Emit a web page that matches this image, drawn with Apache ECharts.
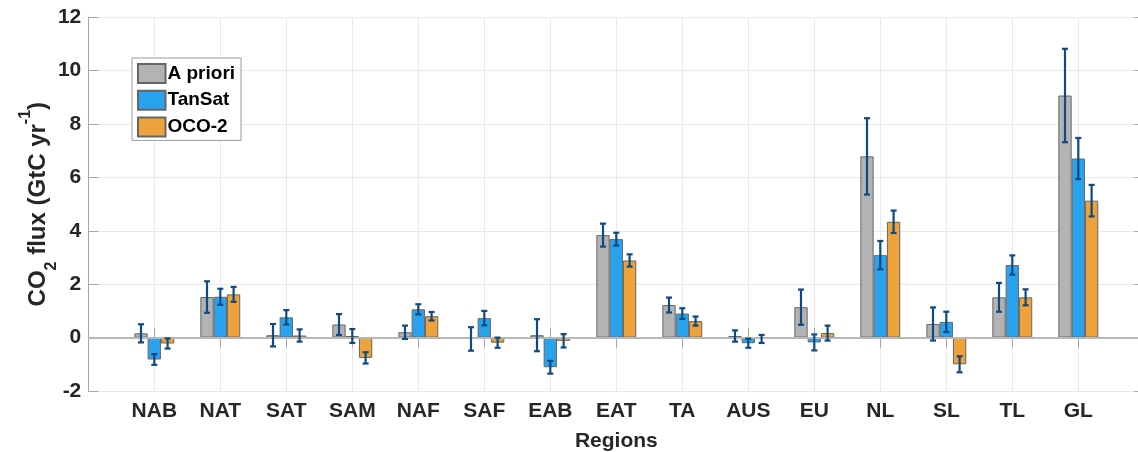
<!DOCTYPE html>
<html>
<head>
<meta charset="utf-8">
<script src="https://cdn.jsdelivr.net/npm/echarts@6/dist/echarts.min.js"></script>
<style>
  html, body { margin: 0; padding: 0; background: #fff; }
  #chart { width: 1138px; height: 452px; }
</style>
</head>
<body>
<div id="chart"></div>
<script>
// regions on the x axis
const regions = ['NAB', 'NAT', 'SAT', 'SAM', 'NAF', 'SAF', 'EAB', 'EAT', 'TA', 'AUS', 'EU', 'NL', 'SL', 'TL', 'GL'];

// flux values (GtC/yr)
const aPriori = [0.16, 1.52, 0.09, 0.49, 0.2, -0.05, 0.09, 3.84, 1.22, 0.06, 1.14, 6.79, 0.51, 1.51, 9.07];
const tanSat  = [-0.82, 1.53, 0.76, 0.06, 1.06, 0.73, -1.11, 3.69, 0.9, -0.21, -0.18, 3.09, 0.59, 2.72, 6.71];
const oco2    = [-0.22, 1.62, 0.08, -0.76, 0.8, -0.19, -0.12, 2.89, 0.62, -0.05, 0.17, 4.34, -1.0, 1.51, 5.13];

// uncertainties (+/-)
const aPrioriErr = [0.34, 0.59, 0.42, 0.39, 0.25, 0.44, 0.6, 0.43, 0.28, 0.21, 0.66, 1.43, 0.62, 0.54, 1.75];
const tanSatErr  = [0.2, 0.3, 0.27, 0.26, 0.19, 0.27, 0.24, 0.24, 0.2, 0.17, 0.3, 0.53, 0.38, 0.36, 0.77];
const oco2Err    = [0.19, 0.28, 0.23, 0.21, 0.16, 0.19, 0.25, 0.23, 0.17, 0.15, 0.28, 0.42, 0.3, 0.3, 0.59];

const yTicks = { min: -2, max: 12, step: 2 };

const FONT = 'Liberation Sans, Arial, Helvetica, sans-serif';
const TEXT = '#262626';
const FRAME = '#a6a6a6';
const GRID = '#e9e9e9';
const BAR_W = 13.3;
const ERR_COLOR = '#0f4a80';

// empty slot at each end, like xlim [0 16]
const axisCats = [''].concat(regions, ['']);
const pad = arr => [null].concat(arr, [null]);

const seriesDefs = [
  { name: 'A priori', color: '#b3b3b3', values: aPriori, errs: aPrioriErr },
  { name: 'TanSat', color: '#2aa3ef', values: tanSat, errs: tanSatErr },
  { name: 'OCO-2', color: '#eea23c', values: oco2, errs: oco2Err }
];

const barSeries = seriesDefs.map((s, k) => {
  const bar = {
    name: s.name,
    type: 'bar',
    data: pad(s.values),
    barWidth: BAR_W,
    barGap: '0%',
    itemStyle: { color: s.color, borderColor: '#666', borderWidth: 1 },
    emphasis: { disabled: true },
    z: 2
  };
  if (k === 0) {
    // bar baseline
    bar.markLine = {
      silent: true,
      symbol: 'none',
      label: { show: false },
      lineStyle: { color: '#b8b8b8', width: 2, type: 'solid' },
      data: [{ yAxis: 0 }],
      z: 3
    };
  }
  return bar;
});

const errSeries = seriesDefs.map((s, k) => ({
  name: s.name + ' err',
  type: 'custom',
  z: 5,
  silent: true,
  data: s.values.map((v, i) => [i + 1, v - s.errs[i], v + s.errs[i]]),
  encode: { x: 0, y: [1, 2] },
  renderItem: (params, api) => {
    const lo = api.coord([api.value(0), api.value(1)]);
    const hi = api.coord([api.value(0), api.value(2)]);
    const x = lo[0] + (k - 1) * BAR_W;
    const cap = 3;
    const style = { stroke: ERR_COLOR, lineWidth: 2.2, fill: null };
    return {
      type: 'group',
      children: [
        { type: 'line', shape: { x1: x, y1: lo[1], x2: x, y2: hi[1] }, style },
        { type: 'line', shape: { x1: x - cap, y1: lo[1], x2: x + cap, y2: lo[1] }, style },
        { type: 'line', shape: { x1: x - cap, y1: hi[1], x2: x + cap, y2: hi[1] }, style }
      ]
    };
  }
}));

const chart = echarts.init(document.getElementById('chart'));
chart.setOption({
  animation: false,
  textStyle: { fontFamily: FONT },
  grid: { left: 88.3, right: -6.3, top: 17.3, bottom: 61, outerBoundsMode: 'none', containLabel: false },
  legend: {
    data: seriesDefs.map(s => s.name),
    orient: 'vertical',
    left: 132,
    top: 58,
    padding: [5, 6, 3, 5],
    itemWidth: 27.5,
    itemHeight: 19,
    itemGap: 5.7,
    icon: 'rect',
    borderColor: '#9a9a9a',
    borderWidth: 1,
    backgroundColor: '#fff',
    textStyle: { fontFamily: FONT, fontSize: 19, fontWeight: 'bold', color: '#000', padding: [0, 0, 0, -3] }
  },
  xAxis: [
    {
      type: 'category',
      data: axisCats,
      boundaryGap: false,
      name: 'Regions',
      nameLocation: 'middle',
      nameGap: 40,
      nameMoveOverlap: false,
      nameTextStyle: { fontFamily: FONT, fontSize: 21, fontWeight: 'bold', color: TEXT },
      axisLine: { lineStyle: { color: FRAME, width: 1 } },
      axisTick: { inside: true, length: 10, interval: 0, lineStyle: { color: FRAME } },
      axisLabel: { interval: 0, margin: 10, fontFamily: FONT, fontSize: 21, fontWeight: 'bold', color: TEXT },
      splitLine: { show: true, interval: 0, lineStyle: { color: GRID, width: 1 } }
    },
    {
      type: 'category',
      position: 'top',
      data: axisCats,
      boundaryGap: false,
      axisLine: { lineStyle: { color: FRAME, width: 1 } },
      axisTick: { inside: true, length: 10, interval: 0, lineStyle: { color: FRAME } },
      axisLabel: { show: false },
      splitLine: { show: false }
    }
  ],
  yAxis: [
    {
      type: 'value',
      min: yTicks.min,
      max: yTicks.max,
      interval: yTicks.step,
      name: '{a|CO}{sub|2}{a| flux (GtC yr}{sup|-1}{a|)}',
      nameLocation: 'middle',
      nameGap: 29,
      nameMoveOverlap: false,
      nameTextStyle: {
        fontFamily: FONT,
        fontSize: 24,
        fontWeight: 'bold',
        color: TEXT,
        rich: {
          a: { fontFamily: FONT, fontSize: 24, fontWeight: 'bold', color: TEXT, lineHeight: 42, verticalAlign: 'middle' },
          sub: { fontFamily: FONT, fontSize: 16, fontWeight: 'bold', color: TEXT, lineHeight: 16, verticalAlign: 'bottom' },
          sup: { fontFamily: FONT, fontSize: 16, fontWeight: 'bold', color: TEXT, lineHeight: 16, verticalAlign: 'top' }
        }
      },
      axisLine: { show: true, lineStyle: { color: FRAME, width: 1 } },
      axisTick: { show: true, inside: true, length: 10, lineStyle: { color: FRAME } },
      axisLabel: { margin: 7, fontFamily: FONT, fontSize: 21, fontWeight: 'bold', color: TEXT },
      splitLine: { show: true, lineStyle: { color: GRID, width: 1 } }
    },
    {
      type: 'value',
      position: 'right',
      min: yTicks.min,
      max: yTicks.max,
      interval: yTicks.step,
      axisLine: { show: true, lineStyle: { color: FRAME, width: 1 } },
      axisTick: { show: true, inside: true, length: 10, lineStyle: { color: FRAME } },
      axisLabel: { show: false },
      splitLine: { show: false }
    }
  ],
  series: barSeries.concat(errSeries)
});
</script>
</body>
</html>
